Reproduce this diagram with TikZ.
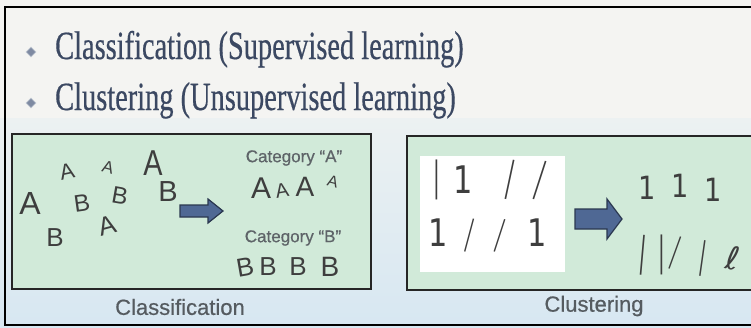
\documentclass[tikz,border=0pt]{standalone}
\usepackage{fontspec}
\setmainfont{Liberation Serif}
\newfontfamily\titlefont[FakeBold=0.5]{Liberation Serif}
\newfontfamily\hand{Liberation Sans}
\newfontfamily\lab[FakeBold=0.6]{Liberation Sans}
\newfontfamily\dv{DejaVu Sans}
\usetikzlibrary{shapes.geometric}
\definecolor{bgtop}{HTML}{F4F4F2}
\definecolor{bgmid}{HTML}{ECF1F2}
\definecolor{bgbot}{HTML}{D7E7F2}
\definecolor{panelgreen}{HTML}{D1EAD9}
\definecolor{titlecol}{HTML}{3B4862}
\definecolor{bulletcol}{HTML}{7E8AA2}
\definecolor{labcol}{HTML}{555B60}
\definecolor{catcol}{HTML}{5E6468}
\definecolor{inkcol}{HTML}{3E3E3E}
\definecolor{arrowfill}{HTML}{4F6894}
\definecolor{arrowline}{HTML}{2B3850}
\tikzset{
  panel/.style={fill=panelgreen, draw=black!85, line width=2.4pt},
  titletext/.style={anchor=base west, inner sep=0pt, text=titlecol},
  bulletmark/.style={diamond, fill=bulletcol, draw=bulletcol!50!white, line width=0.8pt, minimum size=10pt, inner sep=0pt},
  cattext/.style={inner sep=0pt, text=catcol, font=\lab\fontsize{17}{17}\selectfont},
  labtext/.style={inner sep=0pt, text=labcol, font=\lab\fontsize{22}{22}\selectfont},
  ink/.style={inner sep=0pt, text=inkcol},
  blockarrow/.style={fill=arrowfill, draw=arrowline, line width=1.2pt, line join=miter},
}
\begin{document}
\begin{tikzpicture}[x=1pt,y=-1pt]
\useasboundingbox (0,0) rectangle (751,327);
\clip (0,0) rectangle (751,327);
% background
\fill[bgtop] (0,0) rectangle (751,327);
\shade[top color=bgmid, bottom color=bgbot] (0,118) rectangle (751,327);
% outer frame
\draw[black, line width=2pt] (751,7) -- (5,7) -- (5,325) -- (751,325);
% title lines
\node[bulletmark] (b1) at (31,52) {};
\node[bulletmark] (b2) at (31,103) {};
\node[titletext] (t1) at (55,59) {\scalebox{0.71}[1]{\titlefont\fontsize{40}{40}\selectfont Classification (Supervised learning)}};
\node[titletext] (t2) at (55,110) {\scalebox{0.71}[1]{\titlefont\fontsize{40}{40}\selectfont Clustering (Unsupervised learning)}};
% panels
\draw[panel] (12,134) rectangle (371,289);
\draw[panel] (407,136) rectangle (770,290);
\fill[white] (420,156) rectangle (565,272);
% left panel handwriting
\node[ink, font=\hand\fontsize{22}{22}\selectfont, rotate=12] (la1) at (67,172) {A};
\node[ink, font=\hand\fontsize{17}{17}\selectfont, rotate=-15] (la2) at (108,167) {A};
\node[ink, font=\hand\fontsize{36}{36}\selectfont, xscale=0.8] (la3) at (153,163) {A};
\node[ink, font=\hand\fontsize{32}{32}\selectfont] (la4) at (30,203) {A};
\node[ink, font=\hand\fontsize{24}{24}\selectfont, rotate=8] (lb1) at (82,203) {B};
\node[ink, font=\hand\fontsize{24}{24}\selectfont, rotate=-10] (lb2) at (120,196) {B};
\node[ink, font=\hand\fontsize{29}{29}\selectfont] (lb3) at (168,192) {B};
\node[ink, font=\hand\fontsize{26}{26}\selectfont] (lb4) at (55,238) {B};
\node[ink, font=\hand\fontsize{26}{26}\selectfont, rotate=15] (la5) at (107,226) {A};
\draw[blockarrow] (180,205) -- (208,205) -- (208,199) -- (223,211) -- (208,223) -- (208,217) -- (180,217) -- cycle;
% categories
\node[cattext] (ca) at (294,158) {Category “A”};
\node[ink, font=\hand\fontsize{30}{30}\selectfont] (ra1) at (261,188) {A};
\node[ink, font=\hand\fontsize{20}{20}\selectfont, rotate=10] (ra2) at (282,191) {A};
\node[ink, font=\hand\fontsize{28}{28}\selectfont] (ra3) at (305,187) {A};
\node[ink, font=\hand\fontsize{16}{16}\selectfont, rotate=-15] (ra4) at (333,182) {A};
\node[cattext] (cb) at (293,238) {Category “B”};
\node[ink, font=\hand\fontsize{26}{26}\selectfont, rotate=10] (rb1) at (245,267) {B};
\node[ink, font=\hand\fontsize{26}{26}\selectfont] (rb2) at (268,267) {B};
\node[ink, font=\hand\fontsize{26}{26}\selectfont] (rb3) at (298,267) {B};
\node[ink, font=\hand\fontsize{28}{28}\selectfont] (rb4) at (330,267) {B};
% right panel handwriting (ones)
\node[ink, font=\dv\fontsize{40}{40}\selectfont, xscale=0.5] (w1) at (437,180) {|};
\node[ink, font=\dv\fontsize{38}{38}\selectfont, xscale=0.8] (w2) at (463,180) {1};
\node[ink, font=\dv\fontsize{40}{40}\selectfont, rotate=-12, xscale=0.5] (w3) at (510,180) {|};
\node[ink, font=\dv\fontsize{40}{40}\selectfont, rotate=-18, xscale=0.5] (w4) at (540,180) {|};
\node[ink, font=\dv\fontsize{38}{38}\selectfont, xscale=0.8] (w5) at (438,233) {1};
\node[ink, font=\dv\fontsize{34}{34}\selectfont, rotate=-15, xscale=0.5] (w6) at (470,236) {|};
\node[ink, font=\dv\fontsize{34}{34}\selectfont, rotate=-18, xscale=0.5] (w7) at (500,236) {|};
\node[ink, font=\dv\fontsize{38}{38}\selectfont, xscale=0.8] (w8) at (537,233) {1};
\draw[blockarrow] (575,209) -- (607,209) -- (607,199) -- (622,219) -- (607,239) -- (607,229) -- (575,229) -- cycle;
\node[ink, font=\dv\fontsize{32}{32}\selectfont, xscale=0.85] (g1) at (647,188) {1};
\node[ink, font=\dv\fontsize{32}{32}\selectfont, xscale=0.85] (g2) at (680,186) {1};
\node[ink, font=\dv\fontsize{32}{32}\selectfont, xscale=0.85] (g3) at (713,190) {1};
\node[ink, font=\dv\fontsize{40}{40}\selectfont, rotate=-5, xscale=0.5] (h1) at (643,255) {|};
\node[ink, font=\dv\fontsize{40}{40}\selectfont, xscale=0.5] (h2) at (662,255) {|};
\node[ink, font=\dv\fontsize{34}{34}\selectfont, rotate=-20, xscale=0.5] (h3) at (675,253) {|};
\node[ink, font=\dv\fontsize{36}{36}\selectfont, rotate=-8, xscale=0.5] (h4) at (703,258) {|};
\node[ink, font=\dv\fontsize{32}{32}\selectfont, rotate=-10] (h5) at (733,258) {ℓ};
% labels
\node[labtext] (lc) at (180,307) {Classification};
\node[labtext] (lu) at (594,306) {Clustering};
\end{tikzpicture}
\end{document}
